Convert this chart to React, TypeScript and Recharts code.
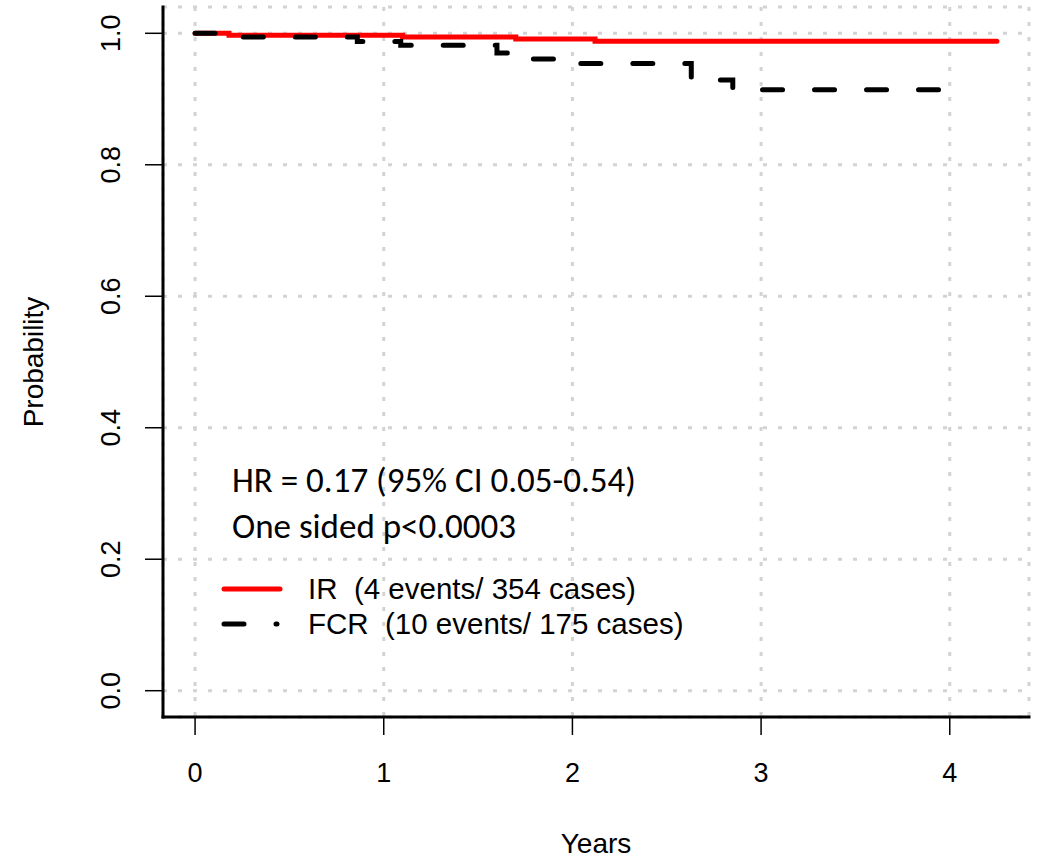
import { LineChart, Line, XAxis, YAxis, CartesianGrid, Legend, Label } from "recharts";

// Kaplan-Meier steps (years, survival probability)
const irTimes = [0, 0.18, 1.1, 1.7, 2.12, 4.25];
const irSurv = [1, 0.9972, 0.9943, 0.9912, 0.988, 0.988];
const fcrTimes = [0, 0.18, 0.86, 1.09, 1.6, 1.7, 1.95, 2.63, 2.85, 3.95];
const fcrSurv = [1, 0.9943, 0.9875, 0.982, 0.97, 0.961, 0.954, 0.929, 0.914, 0.914];

const xTicks = [0, 1, 2, 3, 4];
const yTicks = [0, 0.2, 0.4, 0.6, 0.8, 1];
const legendLabels = ["IR  (4 events/ 354 cases)", "FCR  (10 events/ 175 cases)"];
const statLines = ["HR = 0.17 (95% CI 0.05-0.54)", "One sided p<0.0003"];

const irData = irTimes.map((t, i) => ({ t, p: irSurv[i] }));
const fcrData = fcrTimes.map((t, i) => ({ t, p: fcrSurv[i] }));

const AXIS_FONT = "'Liberation Sans', Arial, sans-serif";
const FCR_DASH = "20 32";

const XTick = ({ x, y, payload }: any) => (
  <text x={x} y={y + 45} textAnchor="middle" fontSize={27} fontFamily={AXIS_FONT} fill="#000">
    {payload.value}
  </text>
);

const YTick = ({ x, y, payload }: any) => (
  <text
    x={x - 23}
    y={y}
    transform={`rotate(-90 ${x - 23} ${y})`}
    textAnchor="middle"
    fontSize={27}
    fontFamily={AXIS_FONT}
    fill="#000"
  >
    {Number(payload.value).toFixed(1)}
  </text>
);

const Overlay = () => (
  <svg width={1038} height={863} style={{ position: "absolute", left: 0, top: 0 }}>
    {statLines.map((s, i) => (
      <text key={s} x={232} y={492 + i * 46} fontSize={35} fontFamily="Carlito, Lato, sans-serif" fill="#000">
        {s}
      </text>
    ))}
    <line x1={224} x2={280} y1={589} y2={589} stroke="#ff0000" strokeWidth={5} strokeLinecap="round" />
    <line x1={224} x2={277} y1={624} y2={624} stroke="#000" strokeWidth={5} strokeLinecap="round" strokeDasharray={FCR_DASH} />
    {legendLabels.map((s, i) => (
      <text key={s} x={308} y={599 + i * 34.5} fontSize={29.5} fontFamily={AXIS_FONT} fill="#000" style={{ whiteSpace: "pre" }}>
        {s}
      </text>
    ))}
  </svg>
);

export default function App() {
  return (
    <div style={{ width: 1038, height: 863, background: "#fff" }}>
      <style>{`body{margin:0}`}</style>
      <LineChart width={1038} height={863} margin={{ top: 7, right: 9, bottom: 0, left: 0 }}>
        <CartesianGrid stroke="#d3d3d3" strokeWidth={3} strokeDasharray="4 11" />
        <XAxis
          dataKey="t"
          type="number"
          domain={[-0.17, 4.42]}
          ticks={xTicks}
          allowDataOverflow
          interval={0}
          height={146}
          tickSize={18}
          axisLine={{ stroke: "#000", strokeWidth: 3, strokeLinecap: "square" }}
          tickLine={{ stroke: "#000", strokeWidth: 1.5 }}
          tick={XTick}
        >
          <Label
            content={({ viewBox }: any) => (
              <text x={viewBox.x + viewBox.width / 2} y={viewBox.y + 136} textAnchor="middle" fontSize={28} fontFamily={AXIS_FONT} fill="#000">
                Years
              </text>
            )}
          />
        </XAxis>
        <YAxis
          type="number"
          domain={[-0.04, 1.04]}
          ticks={yTicks}
          allowDataOverflow
          interval={0}
          width={163}
          tickSize={18}
          axisLine={{ stroke: "#000", strokeWidth: 3, strokeLinecap: "square" }}
          tickLine={{ stroke: "#000", strokeWidth: 1.5 }}
          tick={YTick}
        >
          <Label
            content={({ viewBox }: any) => {
              const cx = viewBox.x + 43;
              const cy = viewBox.y + viewBox.height / 2;
              return (
                <text x={cx} y={cy} transform={`rotate(-90 ${cx} ${cy})`} textAnchor="middle" fontSize={28} fontFamily={AXIS_FONT} fill="#000">
                  Probability
                </text>
              );
            }}
          />
        </YAxis>
        <Line data={irData} dataKey="p" name="IR" type="stepAfter" stroke="#ff0000" strokeWidth={5} strokeLinecap="round" dot={false} isAnimationActive={false} />
        <Line data={fcrData} dataKey="p" name="FCR" type="stepAfter" stroke="#000" strokeWidth={5} strokeLinecap="round" strokeDasharray={FCR_DASH} dot={false} isAnimationActive={false} />
        <Legend
          layout="horizontal"
          verticalAlign="middle"
          align="center"
          wrapperStyle={{ left: 0, top: 0, width: 1038, height: 863, pointerEvents: "none" }}
          content={Overlay}
        />
      </LineChart>
    </div>
  );
}
